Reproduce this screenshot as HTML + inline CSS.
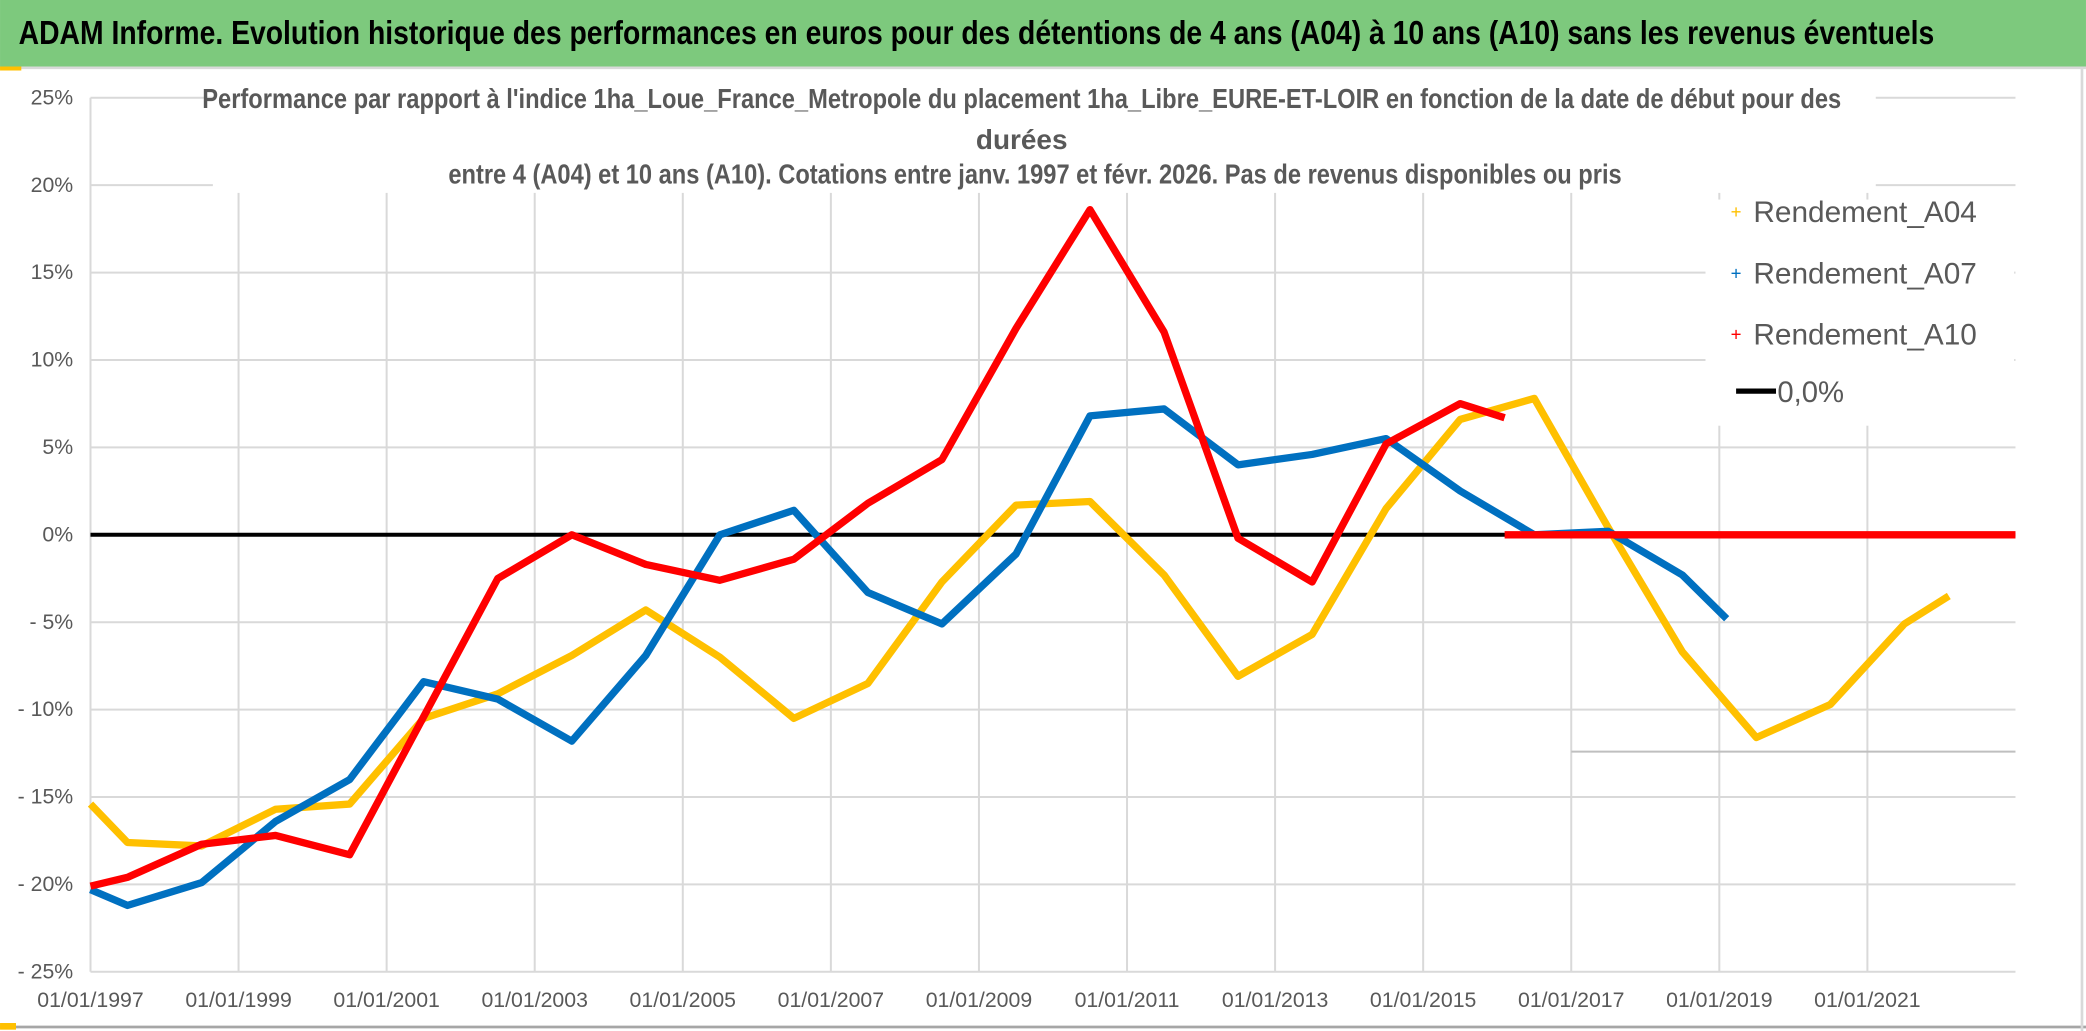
<!DOCTYPE html>
<html><head><meta charset="utf-8"><style>
html,body{margin:0;padding:0;background:#fff;}
svg{display:block;}
text{font-family:"Liberation Sans Narrow","Liberation Sans",sans-serif;}
</style></head><body>
<svg id="chart" width="2086" height="1031" viewBox="0 0 1568 775" xmlns="http://www.w3.org/2000/svg">
<rect x="0" y="0" width="1568" height="775" fill="#fff"/>
<rect x="0" y="0" width="1568" height="50" fill="#7dc97d"/>
<line x1="0" y1="51" x2="1568" y2="51" stroke="#d9d9d9" stroke-width="2"/>
<text x="14" y="33" font-size="25" font-weight="bold" fill="#000" textLength="1440" lengthAdjust="spacingAndGlyphs">ADAM Informe. Evolution historique des performances en euros pour des détentions de 4 ans (A04) à 10 ans (A10) sans les revenus éventuels</text>
<g id="grid"></g>
<rect x="160" y="55" width="1250" height="90" fill="#fff"/>
<text x="768" y="81" font-size="21" font-weight="bold" fill="#595959" text-anchor="middle" textLength="1232" lengthAdjust="spacingAndGlyphs">Performance par rapport à l'indice 1ha_Loue_France_Metropole  du placement 1ha_Libre_EURE-ET-LOIR en fonction de la date de début pour des</text>
<text x="768" y="112" font-size="21" font-weight="bold" fill="#595959" text-anchor="middle">durées</text>
<text x="778" y="138" font-size="21" font-weight="bold" fill="#595959" text-anchor="middle" textLength="882" lengthAdjust="spacingAndGlyphs">entre 4 (A04) et 10 ans (A10). Cotations entre janv. 1997 et févr. 2026. Pas de revenus disponibles ou pris</text>
<g id="axes"></g>
<g id="series"></g>
<g>
<rect x="1282" y="150" width="232" height="170" fill="#fff"/>
<text x="1305" y="164" font-size="14" fill="#ffc000" text-anchor="middle">+</text>
<text x="1318" y="167" font-size="22" fill="#595959" textLength="168" lengthAdjust="spacingAndGlyphs">Rendement_A04</text>
<text x="1305" y="210" font-size="14" fill="#0070c0" text-anchor="middle">+</text>
<text x="1318" y="213" font-size="22" fill="#595959" textLength="168" lengthAdjust="spacingAndGlyphs">Rendement_A07</text>
<text x="1305" y="256" font-size="14" fill="#ff0000" text-anchor="middle">+</text>
<text x="1318" y="259" font-size="22" fill="#595959" textLength="168" lengthAdjust="spacingAndGlyphs">Rendement_A10</text>
<line x1="1305" y1="294" x2="1335" y2="294" stroke="#000" stroke-width="4"/>
<text x="1336" y="302" font-size="22" fill="#595959">0,0%</text>
</g>
<line x1="0" y1="772" x2="1568" y2="772" stroke="#a6a6a6" stroke-width="2"/>
<line x1="1565" y1="50" x2="1565" y2="775" stroke="#d9d9d9" stroke-width="2"/>
<rect x="0" y="50" width="16" height="3" fill="#ffc000"/>
<rect x="0" y="769" width="12" height="5" fill="#ffc000"/>
</svg>
<script>
const yTicks = [25,20,15,10,5,0,-5,-10,-15,-20,-25];
const yTickLabels = ["25%","20%","15%","10%","5%","0%","- 5%","- 10%","- 15%","- 20%","- 25%"];
const xTicks = [1997,1999,2001,2003,2005,2007,2009,2011,2013,2015,2017,2019,2021];
const xTickLabels = ["01/01/1997","01/01/1999","01/01/2001","01/01/2003","01/01/2005","01/01/2007","01/01/2009","01/01/2011","01/01/2013","01/01/2015","01/01/2017","01/01/2019","01/01/2021"];
const yearsA04 = [1997,1997.5,1998.5,1999.5,2000.5,2001.5,2002.5,2003.5,2004.5,2005.5,2006.5,2007.5,2008.5,2009.5,2010.5,2011.5,2012.5,2013.5,2014.5,2015.5,2016.5,2017.5,2018.5,2019.5,2020.5,2021.5,2022.1];
const valuesA04 = [-15.4,-17.6,-17.8,-15.7,-15.4,-10.5,-9.1,-6.9,-4.3,-7,-10.5,-8.5,-2.7,1.7,1.9,-2.3,-8.1,-5.7,1.5,6.6,7.8,0.4,-6.7,-11.6,-9.7,-5.1,-3.5];
const yearsA07 = [1997,1997.5,1998.5,1999.5,2000.5,2001.5,2002.5,2003.5,2004.5,2005.5,2006.5,2007.5,2008.5,2009.5,2010.5,2011.5,2012.5,2013.5,2014.5,2015.5,2016.5,2017.5,2018.5,2019.1];
const valuesA07 = [-20.3,-21.2,-19.9,-16.4,-14,-8.4,-9.4,-11.8,-6.9,0,1.4,-3.3,-5.1,-1.1,6.8,7.2,4,4.6,5.5,2.5,0,0.2,-2.3,-4.8];
const yearsA10 = [1997,1997.5,1998.5,1999.5,2000.5,2002.5,2003.5,2004.5,2005.5,2006.5,2007.5,2008.5,2009.5,2010.5,2011.5,2012.5,2013.5,2014.5,2015.5,2016.1];
const valuesA10 = [-20.1,-19.6,-17.7,-17.2,-18.3,-2.5,0,-1.7,-2.6,-1.4,1.8,4.3,11.8,18.6,11.6,-0.2,-2.7,5.2,7.5,6.7];
const yearsA10Zero = [2016.1,2023];
const valuesA10Zero = [0,0];
const X0=68, X1=1515, Y0=402, PX_PER_PCT=13.14, YR0=1997, YR1=2023;
function xs(y){return X0+(y-YR0)*(X1-X0)/(YR1-YR0);}
function ys(v){return Y0-v*PX_PER_PCT;}
const NS="http://www.w3.org/2000/svg";
function mk(tag,attrs,parent){const e=document.createElementNS(NS,tag);for(const k in attrs)e.setAttribute(k,attrs[k]);parent.appendChild(e);return e;}
const grid=document.getElementById('grid'), axes=document.getElementById('axes'), series=document.getElementById('series');
yTicks.forEach((t,i)=>{
  const l=mk('line',{x1:X0,x2:X1,y1:ys(t),y2:ys(t),stroke:'#d9d9d9','stroke-width':1.5},grid);
  
  
  const tx=mk('text',{x:55,y:ys(t)+5,'font-size':16,fill:'#595959','text-anchor':'end'},axes);
  tx.textContent=yTickLabels[i];
  
  
});
xTicks.forEach((t,i)=>{
  const l=mk('line',{x1:xs(t),x2:xs(t),y1:ys(25),y2:ys(-25),stroke:'#d9d9d9','stroke-width':1.5},grid);
  
  
  const tx=mk('text',{x:xs(t),y:757,'font-size':16,fill:'#595959','text-anchor':'middle'},axes);
  tx.textContent=xTickLabels[i];
  
  
});
const rl=mk('line',{x1:xs(2017),x2:X1,y1:565,y2:565,stroke:'#bfbfbf','stroke-width':1.5},grid);


const zl=mk('line',{x1:X0,x2:X1,y1:ys(0),y2:ys(0),stroke:'#000','stroke-width':3},series);


function drawSeries(xsArr,vals,color,name){
  const pts=xsArr.map((y,i)=>xs(y).toFixed(1)+','+ys(vals[i]).toFixed(1)).join(' ');
  const p=mk('polyline',{points:pts,fill:'none',stroke:color,'stroke-width':5.5,'stroke-linejoin':'round'},series);
  
  
}
drawSeries(yearsA04,valuesA04,'#ffc000','series-a04');
drawSeries(yearsA07,valuesA07,'#0070c0','series-a07');
drawSeries(yearsA10,valuesA10,'#ff0000','series-a10');
drawSeries(yearsA10Zero,valuesA10Zero,'#ff0000','series-a10-zero-tail');
</script>
</body></html>
